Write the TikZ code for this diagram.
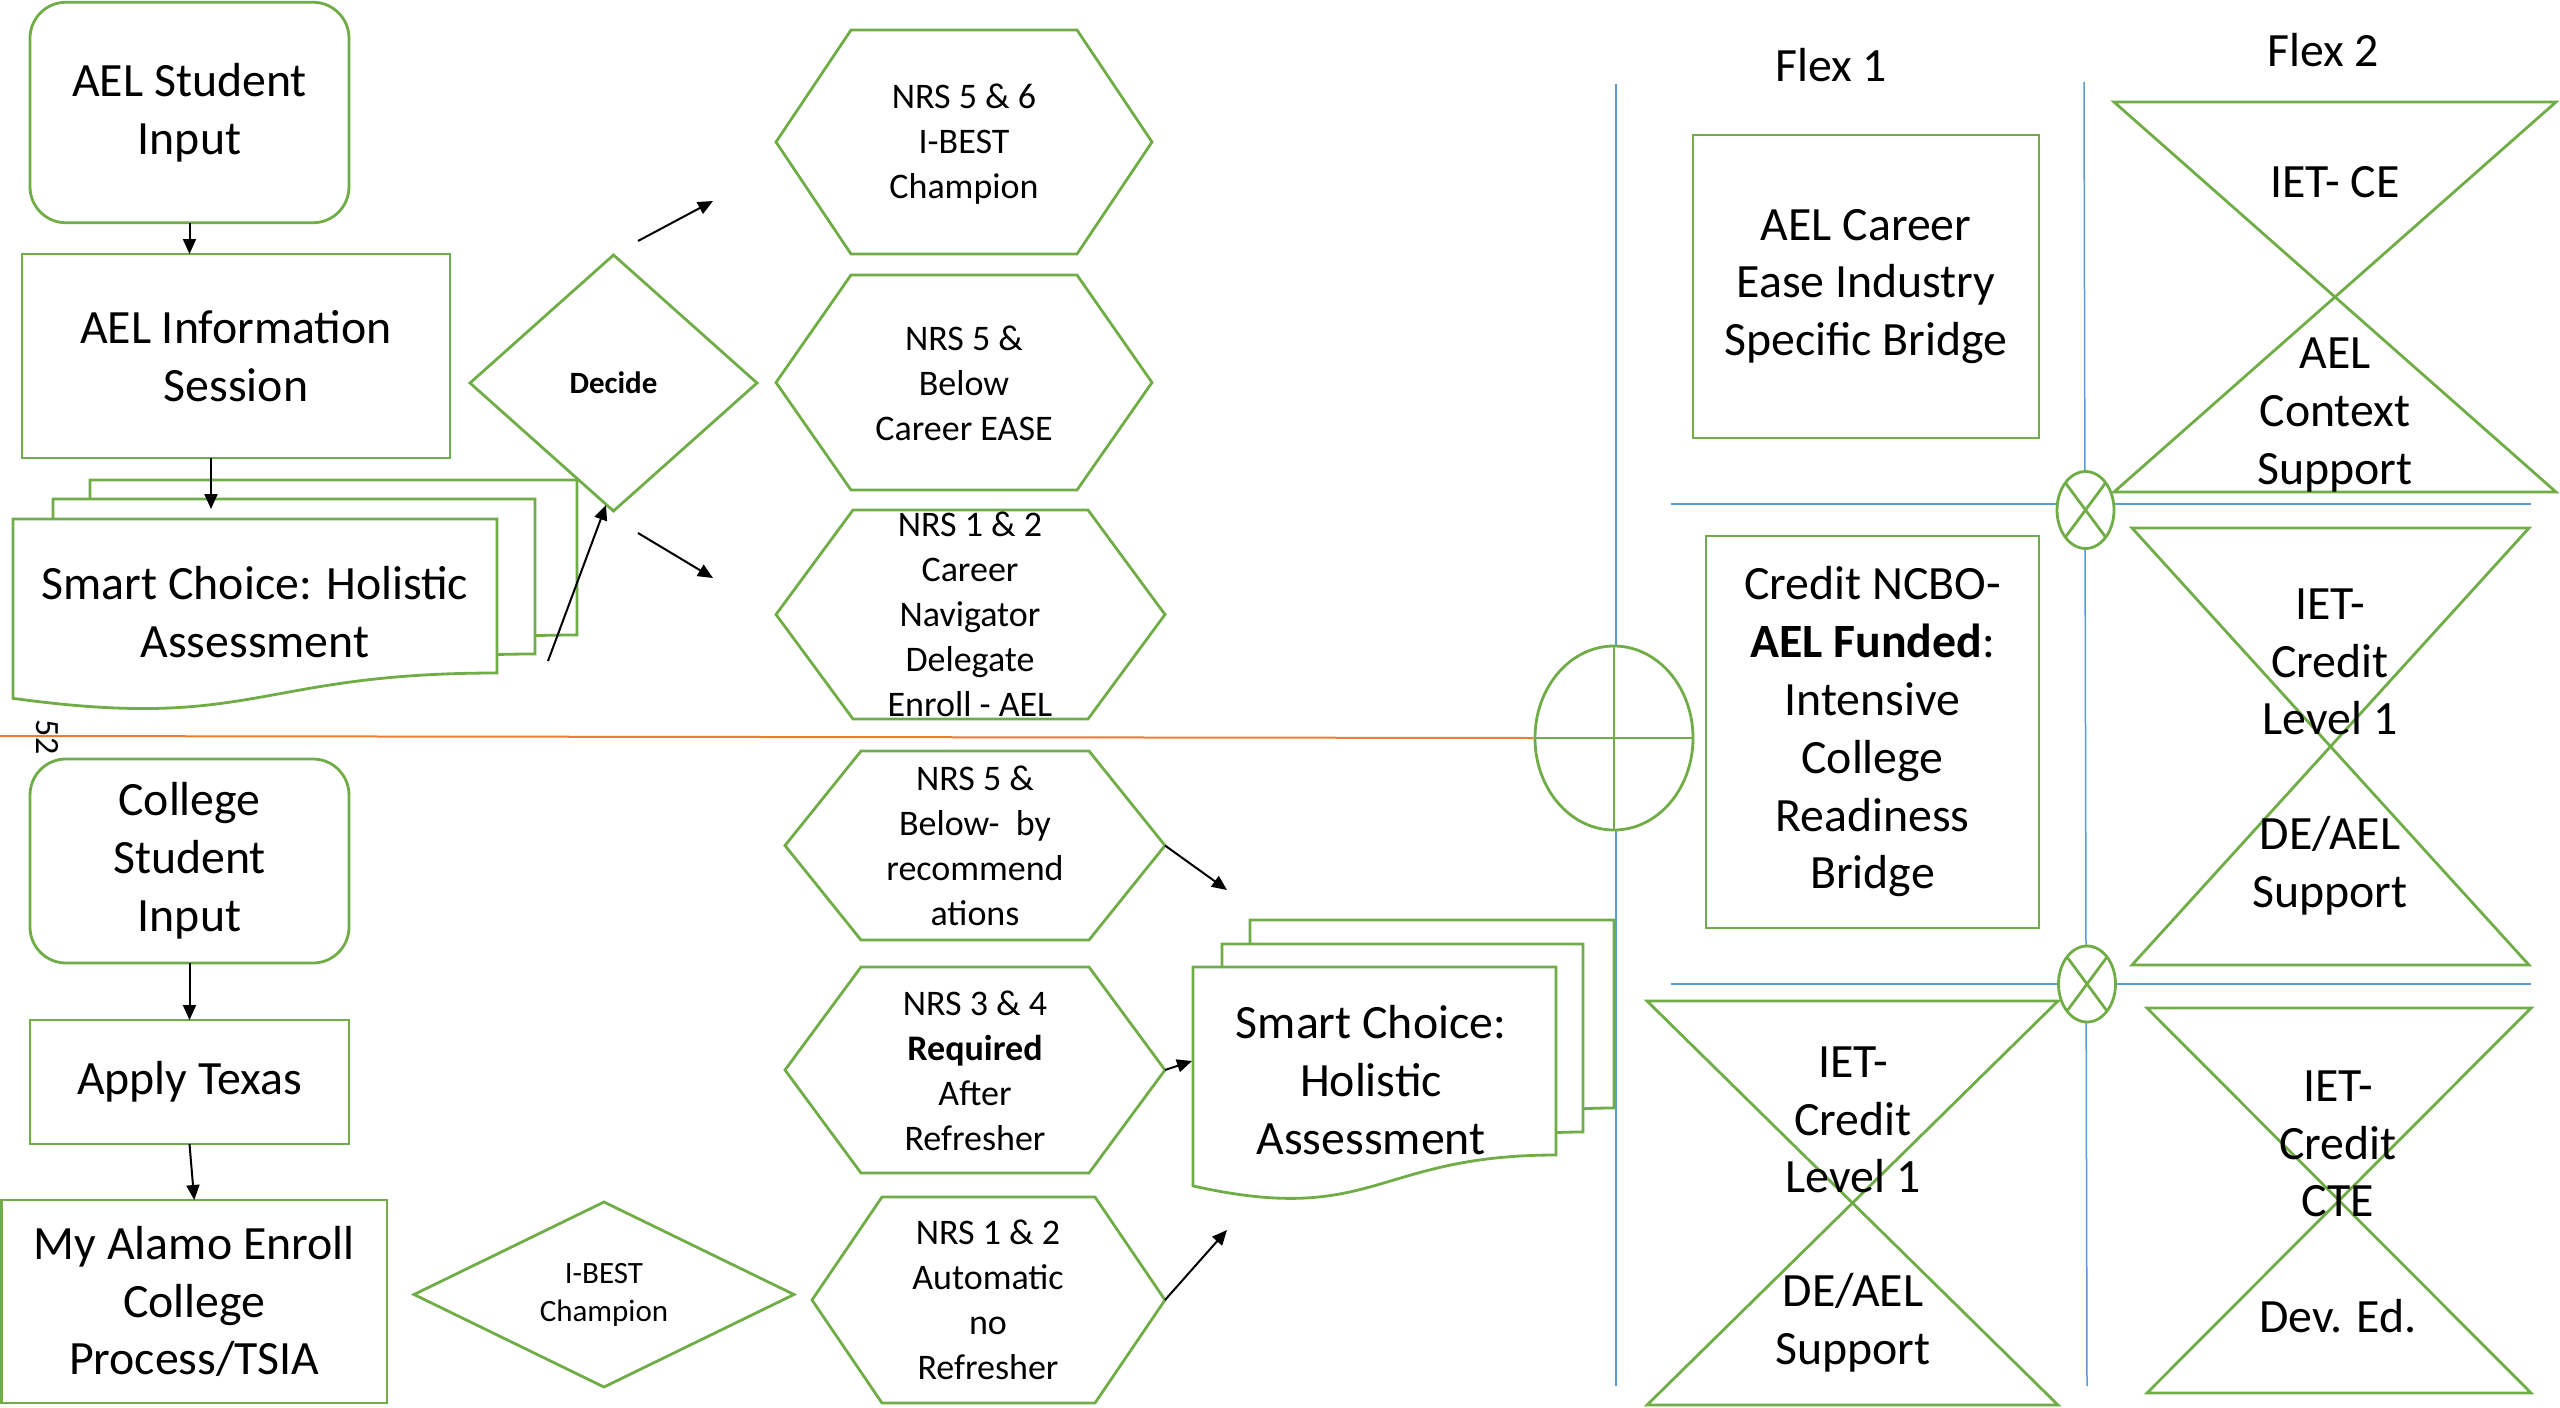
\documentclass[tikz,border=0pt]{standalone}
\usepackage{fontspec}
\setmainfont{Carlito}
\usetikzlibrary{shapes.geometric,arrows.meta,calc}
\definecolor{flowgreen}{HTML}{70AD47}
\definecolor{gridblue}{HTML}{5B9BD5}
\definecolor{splitorange}{HTML}{ED7D31}
\newcommand\bigtxt{\fontsize{23.9pt}{28.9pt}\selectfont}
\newcommand\hextxt{\fontsize{18pt}{22.5pt}\selectfont}
\newcommand\smalltxt{\fontsize{15.5pt}{19pt}\selectfont}
% document page with a wavy bottom edge: left x, top y, right x, bottom-right y
\newcommand\docpg[4]{%
  \pgfmathsetmacro\docH{(#4-#2)/0.802}%
  \pgfmathsetmacro\docXm{(#1+#3)/2}%
  \pgfmathsetmacro\docYl{#2+0.934*\docH}%
  \pgfmathsetmacro\docYc{#2+1.107*\docH}%
  \draw[outline,fill=white] (#1,#2) -- (#3,#2) -- (#3,#4)
    .. controls (\docXm,#4) and (\docXm,\docYc) .. (#1,\docYl) -- cycle;}
% hexagon around a frame node, with the given corner inset
\newcommand\hexpath[2]{%
  \draw[outline] (#1.west) -- ([xshift=#2]#1.north west) -- ([xshift=-#2]#1.north east)
    -- (#1.east) -- ([xshift=-#2]#1.south east) -- ([xshift=#2]#1.south west) -- cycle;}
% hourglass (collate) outline around a frame node
\newcommand\hourglass[1]{%
  \draw[outline] (#1.north west) -- (#1.north east) -- (#1.south west) -- (#1.south east) -- cycle;}
% decision diamond around a frame node
\newcommand\diamondpath[1]{%
  \draw[outline] (#1.west) -- (#1.north) -- (#1.east) -- (#1.south) -- cycle;}
\begin{document}
\begin{tikzpicture}[x=0.5pt,y=-0.5pt,
  outline/.style={draw=flowgreen,line width=1.4pt},
  frame/.style={rectangle,inner sep=0pt,outer sep=0pt},
  boxnode/.style={frame,draw=flowgreen,line width=1.4pt,align=center,font=\bigtxt},
  txt/.style={inner sep=0pt,align=center,font=\bigtxt},
  htxt/.style={inner sep=0pt,align=center,font=\hextxt},
  junction/.style={ellipse,draw=flowgreen,line width=1.4pt,fill=white,inner sep=0pt},
  flow/.style={line width=1pt,-{Triangle[length=7.5pt,width=6.5pt]}},
  gridline/.style={draw=gridblue,line width=0.75pt}]
\fill[white] (0,0) rectangle (2560,1408);
\useasboundingbox (0,0) rectangle (2560,1408);

% ---- grid of the flex columns ----
\draw[gridline] (1616,84) -- (1616,1386);
\draw[gridline] (2084,82) -- (2087,1386);
\draw[gridline] (1671,504) -- (2531,504);
\draw[gridline] (1671,984) -- (2531,984);

% ---- AEL path ----
\node[boxnode,rounded corners=18pt,minimum width=159.5pt,minimum height=110.25pt] (ain) at (189.5,112.5) {AEL Student\\Input};
\node[boxnode,minimum width=214pt,minimum height=102pt] (info) at (236,356) {AEL Information\\Session};

\docpg{90}{480}{577}{635}
\docpg{53}{499}{535}{654}
\docpg{13}{519}{497}{673}
\node[txt] (doc1t) at (255,612) {Smart Choice: Holistic\\Assessment};

\node[frame,minimum width=143.5pt,minimum height=128pt,font=\smalltxt\bfseries] (decide) at (613.5,383) {Decide};
\diamondpath{decide}

\node[frame,minimum width=188pt,minimum height=112pt] (h1) at (964,142) {};
\hexpath{h1}{37.5pt}
\node[htxt] (h1t) at (964,144) {NRS 5 \& 6\\I-BEST\\Champion};

\node[frame,minimum width=188pt,minimum height=107.5pt] (h2) at (964,382.5) {};
\hexpath{h2}{37.5pt}
\node[htxt] (h2t) at (964,383) {NRS 5 \&\\Below\\Career EASE};

\node[frame,minimum width=194.5pt,minimum height=104.5pt] (h3) at (970.5,614.5) {};
\hexpath{h3}{38.5pt}
\node[htxt] (h3t) at (970,614) {NRS 1 \& 2\\Career\\Navigator\\Delegate\\Enroll - AEL};

% ---- divider between the two intake paths ----
\node[inner sep=0pt,font=\fontsize{17pt}{20pt}\selectfont,rotate=-90] (pgnum) at (47,737) {52};
\node[junction,minimum width=79pt,minimum height=92pt] (junc) at (1614,738) {};
\draw[outline] (junc.north) -- (junc.south) (junc.west) -- (junc.east);
\coordinate (divL) at (0,736);
\draw[splitorange,line width=1pt] (divL) -- (junc.west);

% ---- college path ----
\node[boxnode,rounded corners=18pt,minimum width=159.5pt,minimum height=102pt] (csi) at (189.5,861) {College\\Student\\Input};
\node[boxnode,minimum width=159.5pt,minimum height=62pt] (apply) at (189.5,1082) {Apply Texas};
\node[boxnode,minimum width=192.75pt,minimum height=101.5pt] (alamo) at (194.25,1301.5) {My Alamo Enroll\\College\\Process/TSIA};
\node[frame,minimum width=190pt,minimum height=92.5pt,align=center,font=\smalltxt] (ibest) at (604,1294.5) {I-BEST\\Champion};
\diamondpath{ibest}

\node[frame,minimum width=190pt,minimum height=94.5pt] (h4) at (975,845.5) {};
\hexpath{h4}{38pt}
\node[htxt] (h4t) at (975,846) {NRS 5 \&\\Below-~ by\\recommend\\ations};

\node[frame,minimum width=190pt,minimum height=103pt] (h5) at (975,1070) {};
\hexpath{h5}{38pt}
\node[htxt] (h5t) at (975,1071) {NRS 3 \& 4\\\textbf{Required}\\After\\Refresher};

\node[frame,minimum width=176.5pt,minimum height=103pt] (h6) at (988.5,1300) {};
\hexpath{h6}{35pt}
\node[htxt] (h6t) at (988,1300) {NRS 1 \& 2\\Automatic\\no\\Refresher};

\docpg{1250}{920}{1614}{1108}
\docpg{1222}{944}{1583}{1132}
\docpg{1193}{967}{1556}{1155}
\node[txt] (doc2t) at (1371,1080) {Smart Choice:\\Holistic\\Assessment};

% ---- flex columns ----
\node[txt] (flexa) at (1831,65) {Flex 1};
\node[txt] (flexb) at (2323,50) {Flex 2};
\node[boxnode,minimum width=173pt,minimum height=151.5pt] (career) at (1866,286.5) {AEL Career\\Ease Industry\\Specific Bridge};
\node[boxnode,minimum width=166.5pt,minimum height=196pt] (ncbo) at (1872.5,732) {Credit NCBO-\\\textbf{AEL Funded}:\\Intensive\\College\\Readiness\\Bridge};

\node[frame,minimum width=221pt,minimum height=195pt] (hg1) at (2335,297) {};
\hourglass{hg1}
\node[txt] (hg1a) at (2335,182) {IET- CE};
\node[txt] (hg1b) at (2335,415) {AEL\\Context\\Support};

\node[frame,minimum width=198.5pt,minimum height=218.5pt] (hg2) at (2330.5,746.5) {};
\hourglass{hg2}
\node[txt] (hg2a) at (2330,662) {IET-\\Credit\\Level 1};
\node[txt] (hg2b) at (2330,866) {DE/AEL\\Support};

\node[frame,minimum width=205.5pt,minimum height=202pt] (hg3) at (1852.5,1203) {};
\hourglass{hg3}
\node[txt] (hg3a) at (1853,1120) {IET-\\Credit\\Level 1};
\node[txt] (hg3b) at (1853,1323) {DE/AEL\\Support};

\node[frame,minimum width=192pt,minimum height=192.5pt] (hg4) at (2339,1200.5) {};
\hourglass{hg4}
\node[txt] (hg4a) at (2338,1144) {IET-\\Credit\\CTE};
\node[txt] (hg4b) at (2338,1316) {Dev. Ed.};

\node[junction,minimum width=28.5pt,minimum height=38.5pt] (xa) at (2085.5,510) {};
\draw[outline] ($(xa.center)+(-20,-27)$) -- ($(xa.center)+(20,27)$)
               ($(xa.center)+(20,-27)$) -- ($(xa.center)+(-20,27)$);
\node[junction,minimum width=28.5pt,minimum height=38pt] (xb) at (2087,984) {};
\draw[outline] ($(xb.center)+(-20,-27)$) -- ($(xb.center)+(20,27)$)
               ($(xb.center)+(20,-27)$) -- ($(xb.center)+(-20,27)$);

% ---- connectors ----
\draw[flow] (ain.south) -- (ain.south |- info.north);
\coordinate (a2e) at (211,509);
\draw[flow] (info.south -| a2e) -- (a2e);
\coordinate (a3s) at (548,661);
\draw[flow] (a3s) -- ([xshift=-3.75pt,yshift=3pt]decide.south);
\coordinate (d1s) at (638,241);
\coordinate (d1e) at (713,201);
\draw[flow] (d1s) -- (d1e);
\coordinate (d3s) at (638,533);
\coordinate (d3e) at (713,578);
\draw[flow] (d3s) -- (d3e);
\draw[flow] (csi.south) -- (apply.north);
\draw[flow] (apply.south) -- (alamo.north);
\coordinate (r4e) at (1227,890);
\draw[flow] (h4.east) -- (r4e);
\coordinate (r5e) at (1192,1061);
\draw[flow] (h5.east) -- (r5e);
\coordinate (r6e) at (1227,1230);
\draw[flow] (h6.east) -- (r6e);
\end{tikzpicture}
\end{document}
